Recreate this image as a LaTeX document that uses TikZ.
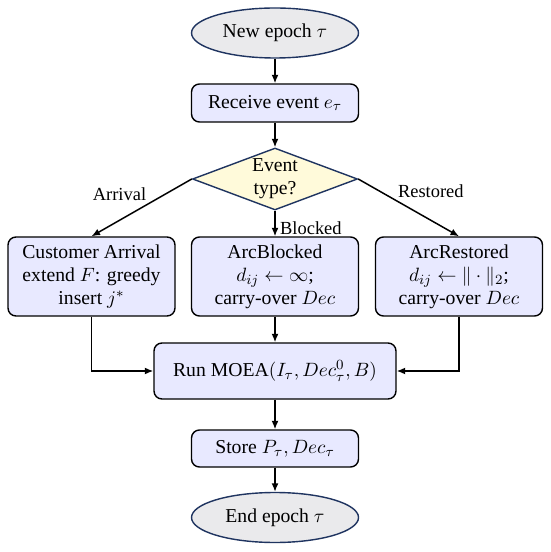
\documentclass[tikz,border=0pt]{standalone}
\usepackage{amsmath}
\usepackage{amssymb}
\usepackage{fontspec}
\setmainfont{Liberation Serif}
\usepackage{tikz}
\usetikzlibrary{shapes.geometric, arrows.meta, positioning, calc}
\definecolor{boxblue}{RGB}{232, 233, 255}
\definecolor{decyellow}{RGB}{255, 250, 218}
\definecolor{termgray}{RGB}{234, 234, 236}
\definecolor{termnavy}{RGB}{31, 52, 96}
\tikzstyle{term} = [ellipse, draw=termnavy, fill=termgray, minimum width=3.34cm, minimum height=1cm, inner sep=0pt, line width=0.8pt]
\tikzstyle{proc} = [rectangle, draw=black, fill=boxblue, align=center, rounded corners=0.16cm, minimum width=3.34cm, inner sep=0pt, line width=0.8pt]
\tikzstyle{decision} = [diamond, draw=termnavy, fill=decyellow, align=center, aspect=2.66, minimum width=3.3cm, minimum height=1.24cm, inner sep=0pt, line width=0.8pt]
\tikzstyle{arrow} = [-{Latex[length=1.7mm, width=1.4mm]}, line width=0.85pt]
\tikzstyle{elabel} = [font=\rmfamily\fontsize{10.5}{12}\selectfont, inner sep=1pt]

\begin{document}
\begin{tikzpicture}[font=\rmfamily\fontsize{11.2}{13.2}\selectfont]
    \useasboundingbox (0, 0) rectangle (11, -11.04);
    % Start / receive
    \node[term] (start) at (5.5, -0.66) {New epoch $\tau$};
    \node[proc, minimum height=0.76cm] (recv) at (5.5, -2.06) {Receive event $e_\tau$};
    
    % Branching on event type
    \node[decision] (type) at (5.5, -3.58) {Event\\type?};
    
    % Event handlers
    \node[proc, minimum height=1.58cm] (arrival) at (1.83, -5.53) {Customer Arrival\\extend $F$: greedy\\insert $j^{*}$};
    \node[proc, minimum height=1.58cm] (blocked) at (5.5, -5.53) {ArcBlocked\\$d_{ij} \leftarrow \infty$;\\carry-over $Dec$};
    \node[proc, minimum height=1.58cm] (restored) at (9.18, -5.53) {ArcRestored\\$d_{ij} \leftarrow \|\cdot\|_2$;\\carry-over $Dec$};
    
    % Optimisation and storage
    \node[proc, minimum width=4.84cm, minimum height=1.12cm] (moea) at (5.5, -7.42) {Run MOEA$(I_\tau, Dec_\tau^0, B)$};
    \node[proc, minimum height=0.74cm] (store) at (5.5, -8.97) {Store $P_\tau, Dec_\tau$};
    \node[term] (finish) at (5.5, -10.35) {End epoch $\tau$};
    
    % Connections
    \draw[arrow] (start) -- (recv);
    \draw[arrow] (recv) -- (type);
    \draw[arrow] (type.west) -- (arrival.north) node[elabel, pos=0.43, anchor=south east] {Arrival};
    \draw[arrow] (type.south) -- (blocked.north) node[elabel, pos=0.68, right=1.5pt] {Blocked};
    \draw[arrow] (type.east) -- (restored.north) node[elabel, pos=0.37, anchor=south west] {Restored};
    \draw[arrow] (arrival.south) |- (moea.west);
    \draw[arrow] (blocked) -- (moea);
    \draw[arrow] (restored.south) |- (moea.east);
    \draw[arrow] (moea) -- (store);
    \draw[arrow] (store) -- (finish);
\end{tikzpicture}
\end{document}
